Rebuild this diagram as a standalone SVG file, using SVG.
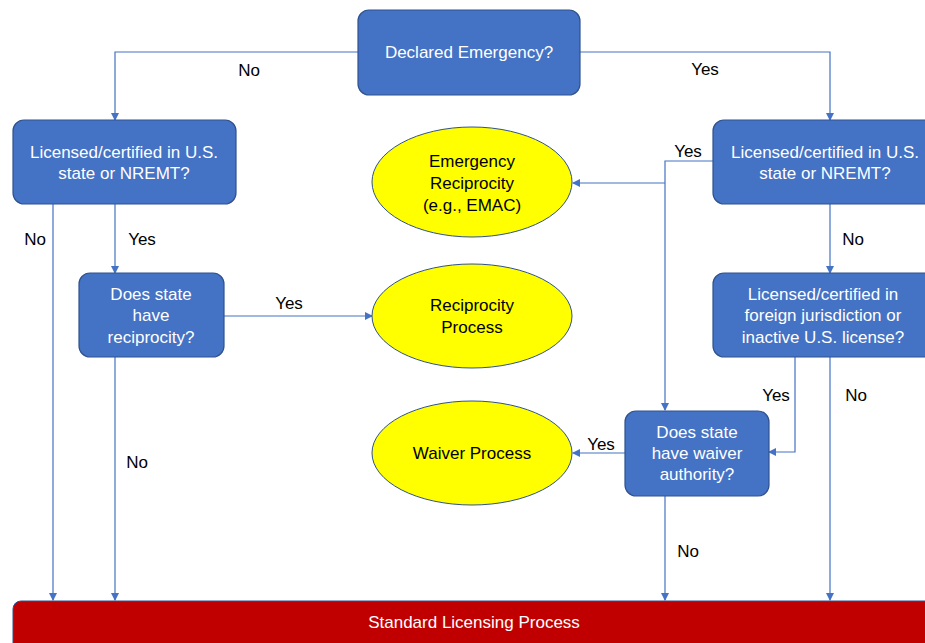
<svg xmlns="http://www.w3.org/2000/svg" width="925" height="643" viewBox="0 0 925 643">
<style>
.box{fill:#4472C4;stroke:#2F528F;stroke-width:1.2}
.ell{fill:#FFFF00;stroke:#2F528F;stroke-width:1}
.wt{fill:#FFFFFF;font-family:"Liberation Sans",Arial,sans-serif;font-size:17px;text-anchor:middle}
.bt{fill:#000000;font-family:"Liberation Sans",Arial,sans-serif;font-size:17px;text-anchor:middle}
.lbl{fill:#000000;font-family:"Liberation Sans",Arial,sans-serif;font-size:17px;text-anchor:middle}
.c{fill:none;stroke:#4472C4;stroke-width:1.2;marker-end:url(#ah)}
</style>
<defs>
<marker id="ah" markerWidth="8" markerHeight="8" refX="7" refY="4" orient="auto" markerUnits="userSpaceOnUse">
<path d="M0,0 L8,4 L0,8 Z" fill="#4472C4"/>
</marker>
</defs>
<rect width="925" height="643" fill="#FFFFFF"/>
<g id="connectors">
<path class="c" d="M358,52 H115 V120"/>
<path class="c" d="M580,52 H830 V120"/>
<path class="c" d="M53,204 V600"/>
<path class="c" d="M115,204 V273"/>
<path class="c" d="M224,316 H372"/>
<path class="c" d="M115,357 V600"/>
<path class="c" d="M713,161 H665 V410"/>
<path class="c" d="M665,183 H573"/>
<path class="c" d="M830,204 V273"/>
<path class="c" d="M795,357 V452 H769"/>
<path class="c" d="M830,357 V600"/>
<path class="c" d="M625,453 H573"/>
<path class="c" d="M665,496 V600"/>
<text class="lbl" x="249" y="76">No</text>
<text class="lbl" x="705" y="75">Yes</text>
<text class="lbl" x="35" y="245">No</text>
<text class="lbl" x="142" y="245">Yes</text>
<text class="lbl" x="289" y="309">Yes</text>
<text class="lbl" x="137" y="468">No</text>
<text class="lbl" x="688" y="157">Yes</text>
<text class="lbl" x="853" y="245">No</text>
<text class="lbl" x="776" y="401">Yes</text>
<text class="lbl" x="856" y="401">No</text>
<text class="lbl" x="601" y="450">Yes</text>
<text class="lbl" x="688" y="557">No</text>
</g>
<g id="declared">
<rect class="box" x="358" y="10" width="222" height="85" rx="11"/>
<text class="wt" x="469" y="58">Declared Emergency?</text>
</g>
<g id="left-licensed">
<rect class="box" x="13" y="120" width="223" height="84" rx="11"/>
<text class="wt" x="124" y="158">Licensed/certified in U.S.</text>
<text class="wt" x="124" y="179">state or NREMT?</text>
</g>
<g id="right-licensed">
<rect class="box" x="713" y="120" width="225" height="84" rx="11"/>
<text class="wt" x="825" y="158">Licensed/certified in U.S.</text>
<text class="wt" x="825" y="179">state or NREMT?</text>
</g>
<g id="emergency-reciprocity">
<ellipse class="ell" cx="472" cy="182" rx="100" ry="55"/>
<text class="bt" x="472" y="167">Emergency</text>
<text class="bt" x="472" y="189">Reciprocity</text>
<text class="bt" x="472" y="211">(e.g., EMAC)</text>
</g>
<g id="state-reciprocity">
<rect class="box" x="79" y="273" width="145" height="84" rx="11"/>
<text class="wt" x="151" y="300">Does state</text>
<text class="wt" x="151" y="321">have</text>
<text class="wt" x="151" y="343">reciprocity?</text>
</g>
<g id="reciprocity-process">
<ellipse class="ell" cx="472" cy="316" rx="100" ry="52"/>
<text class="bt" x="472" y="311">Reciprocity</text>
<text class="bt" x="472" y="333">Process</text>
</g>
<g id="foreign">
<rect class="box" x="713" y="273" width="225" height="84" rx="11"/>
<text class="wt" x="823" y="300">Licensed/certified in</text>
<text class="wt" x="823" y="321">foreign jurisdiction or</text>
<text class="wt" x="823" y="343">inactive U.S. license?</text>
</g>
<g id="waiver-authority">
<rect class="box" x="625" y="411" width="144" height="85" rx="11"/>
<text class="wt" x="697" y="438">Does state</text>
<text class="wt" x="697" y="459">have waiver</text>
<text class="wt" x="697" y="480">authority?</text>
</g>
<g id="waiver-process">
<ellipse class="ell" cx="472" cy="453" rx="100" ry="52"/>
<text class="bt" x="472" y="459">Waiver Process</text>
</g>
<g id="standard">
<rect x="13" y="601" width="930" height="60" rx="8" fill="#C00000" stroke="#2F528F" stroke-width="1"/>
<text class="wt" x="474" y="628">Standard Licensing Process</text>
</g>
</svg>
